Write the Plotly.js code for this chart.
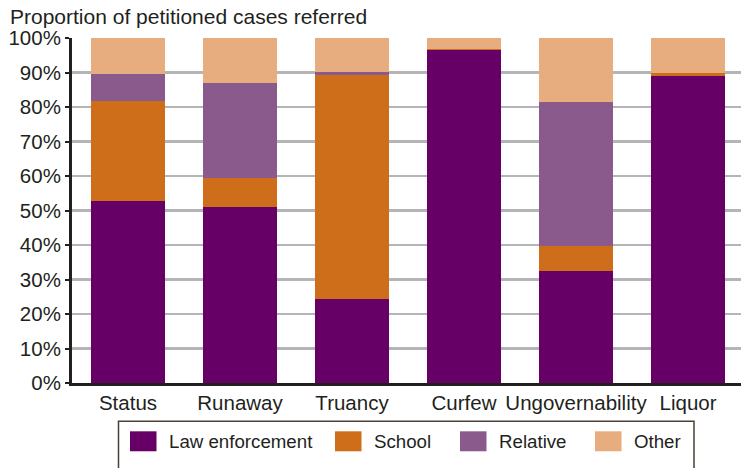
<!DOCTYPE html>
<html><head><meta charset="utf-8">
<script src="https://cdn.plot.ly/plotly-3.0.1.min.js"></script>
<style>body{margin:0;background:#fff}#c{width:741px;height:468px}</style>
</head><body><div id="c"></div>
<script>
const categories = ["Status","Runaway","Truancy","Curfew","Ungovernability","Liquor"];
const seriesNames = ["Law enforcement","School","Relative","Other"];
const colors = ["#660066","#CF6E1A","#8B5A8C","#E8AD7E"];
const lawEnforcement = [52.7, 51.1, 24.4, 96.5, 32.5, 89.0];
const school = [29.0, 8.4, 64.9, 0.3, 7.3, 0.8];
const relative = [7.9, 27.5, 0.8, 0.0, 41.7, 0.0];
const other = [10.4, 13.0, 9.9, 3.2, 18.5, 10.2];
const yTicks = [0,10,20,30,40,50,60,70,80,90,100];
const yTickLabels = yTicks.map(v => v + "%");

const series = [lawEnforcement, school, relative, other];
const font = "Liberation Sans, Arial, sans-serif";
const traces = series.map((vals, i) => ({
  type: "bar", x: categories, y: vals, name: seriesNames[i],
  marker: {color: colors[i], line: {width: 0}}, width: 0.66,
  hoverinfo: "x+y+name", showlegend: false
}));

// custom legend built from series names/colors
const L = 72, W = 669, B = 383.3, H = 345.6;
const px = v => (v - L) / W, py = v => (B - v) / H;
const legX = [130, 335, 460, 595];
const shapes = [{type:"rect", xref:"paper", yref:"paper",
  x0:px(118.5), x1:px(694), y0:py(492), y1:py(421.5),
  line:{color:"#4a4035", width:1.5}, fillcolor:"rgba(0,0,0,0)"}];
const annotations = [];
seriesNames.forEach((n, i) => {
  shapes.push({type:"rect", xref:"paper", yref:"paper",
    x0:px(legX[i]), x1:px(legX[i]+26.5),
    y0:py(451.7), y1:py(431.7),
    line:{width:0}, fillcolor: colors[i]});
  annotations.push({xref:"paper", yref:"paper", x:px(legX[i]+36.5), y:py(442),
    xanchor:"left", yanchor:"middle", text:n, showarrow:false,
    font:{family:font, size:18.7, color:"#231f20"}});
});

const layout = {
  width: 741, height: 468,
  margin: {l: L, r: 0, t: 37.7, b: 468 - B},
  paper_bgcolor: "#fff", plot_bgcolor: "#fff",
  barmode: "stack",
  showlegend: false,
  title: {text: "Proportion of petitioned cases referred", xref: "container", yref: "container",
    x: 10/741, xanchor: "left", y: 1 - 16.5/468, yanchor: "middle",
    font: {family: font, size: 21, color: "#231f20"}},
  xaxis: {type: "category", range: [-0.5, 5.473], showgrid: false, zeroline: false,
    showline: true, linecolor: "#231f20", linewidth: 2.5, ticks: "",
    tickfont: {family: font, size: 20.5, color: "#231f20"}, fixedrange: true},
  yaxis: {range: [0, 100], tickvals: yTicks, ticktext: yTickLabels,
    showgrid: true, gridcolor: "#b5b5b5", gridwidth: 2.5, zeroline: false,
    showline: true, linecolor: "#231f20", linewidth: 3, ticks: "outside", ticklen: 4,
    tickcolor: "#231f20", tickwidth: 2,
    tickfont: {family: font, size: 20.5, color: "#231f20"}, fixedrange: true},
  shapes: shapes, annotations: annotations,
  font: {family: font}
};
Plotly.newPlot("c", traces, layout, {displayModeBar: false, staticPlot: true});
</script></body></html>
